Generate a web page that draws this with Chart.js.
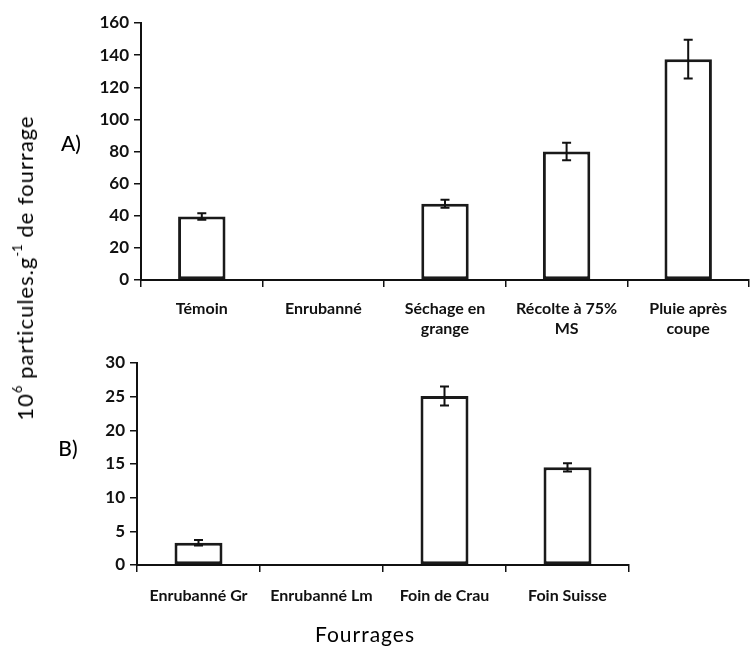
<!DOCTYPE html>
<html>
<head>
<meta charset="utf-8">
<script src="https://cdn.jsdelivr.net/npm/chart.js@4.4.1/dist/chart.umd.min.js"></script>
<style>
  html, body { margin: 0; padding: 0; background: #fff; }
  #wrap { position: relative; width: 750px; height: 648px; overflow: hidden; background: #fff; }
  .cv { position: absolute; left: 0; }
  .lbl { position: absolute; font-family: Lato, "Open Sans", sans-serif; color: #000; white-space: nowrap; line-height: 1; }
  #ytitle { left: 25px; top: 268px; font-size: 22px; letter-spacing: 1px; transform: translate(-50%, -50%) rotate(-90deg); }
  #ytitle sup { font-size: 13px; position: relative; top: -3px; vertical-align: top; letter-spacing: 0; }
  #la { left: 71px; top: 142px; font-size: 21px; font-weight: 500; transform: translate(-50%, -50%); }
  #lb { left: 68px; top: 447px; font-size: 21px; font-weight: 500; transform: translate(-50%, -50%); }
  #xt { left: 365px; top: 623px; font-size: 21px; letter-spacing: 1px; transform: translateX(-50%); }
</style>
</head>
<body>
<div id="wrap">
  <canvas id="cA" class="cv" style="top:0px;" width="750" height="345"></canvas>
  <canvas id="cB" class="cv" style="top:345px;" width="750" height="303"></canvas>
  <div id="ytitle" class="lbl">10<sup>6</sup> particules.g<sup>-1</sup> de fourrage</div>
  <div id="la" class="lbl">A)</div>
  <div id="lb" class="lbl">B)</div>
  <div id="xt" class="lbl">Fourrages</div>
</div>
<script>
// ---- Data ----
const categoriesA = [["Témoin"], ["Enrubanné"], ["Séchage en", "grange"], ["Récolte à 75%", "MS"], ["Pluie après", "coupe"]];
const valuesA = [39.5, 0, 47.5, 80, 137.5];
const errorsA = [2, 0, 2.5, 5.5, 12];
const yTicksA = { min: 0, max: 160, step: 20 };

const categoriesB = ["Enrubanné Gr", "Enrubanné Lm", "Foin de Crau", "Foin Suisse"];
const valuesB = [3.3, 0, 25.1, 14.5];
const errorsB = [0.4, 0, 1.4, 0.6];
const yTicksB = { min: 0, max: 30, step: 5 };

const FONT = "Lato, 'Open Sans', sans-serif";

const errorBarPlugin = {
  id: 'errorBars',
  afterDatasetsDraw(chart, args, opts) {
    const errs = opts.errors || [];
    const vals = chart.data.datasets[0].data;
    const meta = chart.getDatasetMeta(0);
    const ys = chart.scales.y;
    const ctx = chart.ctx;
    ctx.save();
    ctx.strokeStyle = '#111';
    ctx.lineWidth = 2;
    meta.data.forEach((bar, i) => {
      const e = errs[i];
      if (!e) return;
      const x = bar.x;
      const yt = ys.getPixelForValue(vals[i] + e);
      const yb = ys.getPixelForValue(vals[i] - e);
      ctx.beginPath();
      ctx.moveTo(x, yt); ctx.lineTo(x, yb);
      ctx.moveTo(x - 4.5, yt); ctx.lineTo(x + 4.5, yt);
      ctx.moveTo(x - 4.5, yb); ctx.lineTo(x + 4.5, yb);
      ctx.stroke();
    });
    ctx.restore();
  }
};

function makeChart(id, labels, values, errors, yt, cfg) {
  return new Chart(document.getElementById(id), {
    type: 'bar',
    data: {
      labels: labels,
      datasets: [{
        data: values,
        backgroundColor: '#ffffff',
        borderColor: '#1a1a1a',
        borderWidth: 3,
        borderSkipped: false,
        categoryPercentage: 1.0,
        barPercentage: 0.39
      }]
    },
    plugins: [errorBarPlugin],
    options: {
      responsive: false,
      animation: false,
      events: [],
      layout: { padding: { top: cfg.padTop, right: cfg.padRight, left: 0, bottom: 0 } },
      plugins: {
        legend: { display: false },
        tooltip: { enabled: false },
        errorBars: { errors: errors }
      },
      scales: {
        x: {
          offset: true,
          grid: { display: true, offset: true, drawOnChartArea: false, drawTicks: true, tickLength: 7, color: '#111', lineWidth: 1.5 },
          border: { display: true, color: '#111', width: 2 },
          ticks: {
            color: '#111', padding: cfg.xPad, maxRotation: 0, autoSkip: false,
            font: { family: FONT, size: 16, weight: 'bold', lineHeight: 1.3 }
          },
          afterFit(s) { s.height = cfg.xHeight; }
        },
        y: {
          min: yt.min, max: yt.max,
          grid: { display: true, drawOnChartArea: false, drawTicks: true, tickLength: 7, color: '#111', lineWidth: 1.5 },
          border: { display: true, color: '#111', width: 2 },
          ticks: {
            stepSize: yt.step, color: '#111', padding: 5,
            font: { family: FONT, size: 17, weight: 'bold' }
          },
          afterFit(s) { s.width = cfg.yWidth; }
        }
      }
    }
  });
}

makeChart('cA', categoriesA, valuesA, errorsA, yTicksA, { padTop: 23, padRight: 1, xHeight: 65, yWidth: 141, xPad: 11 });
makeChart('cB', categoriesB, valuesB, errorsB, yTicksB, { padTop: 18, padRight: 121, xHeight: 83, yWidth: 137, xPad: 13 });
</script>
</body>
</html>
